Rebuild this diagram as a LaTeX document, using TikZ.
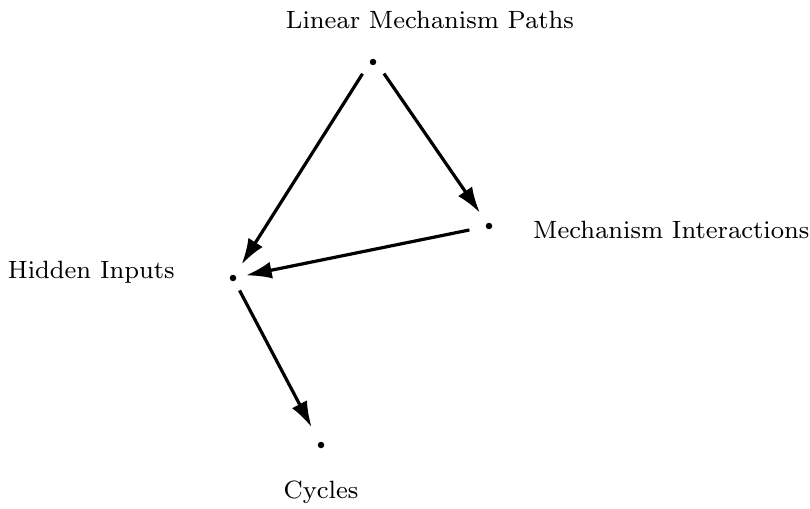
\documentclass[tikz,border=0pt]{standalone}
\usetikzlibrary{arrows.meta}
\font\labfont=cmr8 at 25pt
\begin{document}
\begin{tikzpicture}[x=1pt,y=-1pt,
  dotn/.style={circle,fill=black,inner sep=0pt,minimum size=6.5pt},
  lbl/.style={font=\labfont,inner sep=0pt},
  arr/.style={line width=3.2pt,-{Latex[length=26pt,width=17pt]},shorten <=14pt,shorten >=16pt}]
\useasboundingbox (0,0) rectangle (810,508);
\node[dotn] (lmp) at (373,62) {};
\node[dotn] (mi) at (489,226) {};
\node[dotn] (hi) at (233,278) {};
\node[dotn] (cy) at (321,445) {};
\node[lbl] (lmpl) at (430,20) {Linear Mechanism Paths};
\node[lbl,anchor=west] (mil) at (533,230) {Mechanism Interactions};
\node[lbl,anchor=east] (hil) at (175,272) {Hidden Inputs};
\node[lbl] (cyl) at (321,492) {Cycles};
\draw[arr] ([xshift=-3pt]lmp.center) -- (hi.center);
\draw[arr] ([xshift=3pt]lmp.center) -- (mi.center);
\draw[arr,shorten <=20pt,shorten >=13pt] (mi.center) -- (hi.center);
\draw[arr,shorten >=20pt] (hi.center) -- (cy.center);
\end{tikzpicture}
\end{document}
